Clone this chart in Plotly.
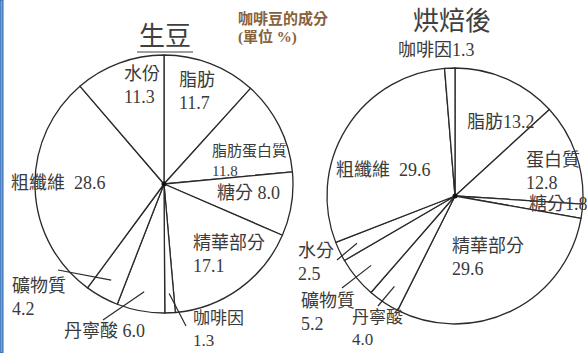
import math
import plotly.graph_objects as go

# ---- data (percent composition) ----
raw_names = ["脂肪", "脂肪蛋白質", "糖分", "精華部分", "咖啡因", "丹寧酸", "礦物質", "粗纖維", "水份"]
raw_values = [11.7, 11.8, 8.0, 17.1, 1.3, 6.0, 4.2, 28.6, 11.3]

roast_names = ["脂肪", "蛋白質", "糖分", "精華部分", "丹寧酸", "礦物質", "水分", "粗纖維", "咖啡因"]
roast_values = [13.2, 12.8, 1.8, 29.6, 4.0, 5.2, 2.5, 29.6, 1.3]

titles = ["生豆", "烘焙後"]
caption = ["咖啡豆的成分", "(單位 %)"]

# ---- page / geometry ----
W, H = 587, 353
FONT = "'Liberation Serif', 'Noto Sans CJK TC', serif"
INK = "#3a3a3a"

pies = [
    dict(names=raw_names, values=raw_values, cx=164, cy=184, r=129),
    dict(names=roast_names, values=roast_values, cx=455, cy=196, r=128),
]


def px(x, y):
    return x / W, 1 - y / H


# label layout per pie: name -> (left x, middle y, separator, font size)
label_layout = [
    {
        "水份": (122, 85, "<br>", 18),
        "脂肪": (177, 92, "<br>", 18),
        "脂肪蛋白質": (210, 160, "<br>", 15),
        "糖分": (215, 193, " ", 18),
        "精華部分": (191, 254, "<br>", 18),
        "咖啡因": (191, 329, "<br>", 17),
        "丹寧酸": (62, 331, " ", 18),
        "礦物質": (10, 297, "<br>", 18),
        "粗纖維": (9, 183, "&nbsp;&nbsp;", 18),
    },
    {
        "咖啡因": (396, 50, "", 18),
        "脂肪": (465, 122, "", 18),
        "蛋白質": (524, 171, "<br>", 18),
        "糖分": (527, 204, "", 18),
        "精華部分": (450, 257, "<br>", 18),
        "粗纖維": (334, 170, "&nbsp;&nbsp;", 18),
        "水分": (296, 262, "<br>", 18),
        "礦物質": (299, 312, "<br>", 18),
        "丹寧酸": (350, 328, "<br>", 17),
    },
]

# leader line end points for the small outer-labelled slices
leader_ends = [
    {"咖啡因": (186, 326), "丹寧酸": (103, 320), "礦物質": (58, 270)},
    {"水分": (337, 260), "礦物質": (342, 288), "丹寧酸": (378, 306)},
]

fig = go.Figure()
shapes = []
annotations = []

for i, p in enumerate(pies):
    cx, cy, r = p["cx"], p["cy"], p["r"]
    fig.add_trace(go.Pie(
        labels=p["names"],
        values=p["values"],
        sort=False,
        direction="clockwise",
        rotation=0,
        textinfo="none",
        hoverinfo="skip",
        showlegend=False,
        marker=dict(colors=["white"] * len(p["values"]),
                    line=dict(color="#2a2a2a", width=1.3)),
        domain=dict(x=[(cx - r) / W, (cx + r) / W],
                    y=[1 - (cy + r) / H, 1 - (cy - r) / H]),
    ))

    # centre dot
    x0, y0 = px(cx - 2.5, cy + 2.5)
    x1, y1 = px(cx + 2.5, cy - 2.5)
    shapes.append(dict(type="circle", xref="paper", yref="paper",
                       x0=x0, y0=y0, x1=x1, y1=y1,
                       fillcolor="#111", line=dict(width=0)))

    # slice labels built from the values
    total = sum(p["values"])
    cum = 0.0
    for name, v in zip(p["names"], p["values"]):
        mid = (cum + v / 2) / total * 2 * math.pi
        cum += v
        lx, ly, sep, fs = label_layout[i][name]
        ax_, ay_ = px(lx, ly)
        annotations.append(dict(
            x=ax_, y=ay_, xref="paper", yref="paper",
            xanchor="left", yanchor="middle", align="left",
            text=f"{name}{sep}{v:.1f}", showarrow=False,
            font=dict(family=FONT, size=fs, color=INK),
        ))
        if name in leader_ends[i]:
            sx = cx + 0.85 * r * math.sin(mid)
            sy = cy - 0.85 * r * math.cos(mid)
            ex, ey = leader_ends[i][name]
            a0, b0 = px(sx, sy)
            a1, b1 = px(ex, ey)
            shapes.append(dict(type="line", xref="paper", yref="paper",
                               x0=a0, y0=b0, x1=a1, y1=b1,
                               line=dict(color="#2a2a2a", width=1.2)))

# titles
tx, ty = px(165, 37)
annotations.append(dict(x=tx, y=ty, xref="paper", yref="paper", showarrow=False,
                        xanchor="center", yanchor="middle", text=titles[0],
                        font=dict(family=FONT, size=26, color="#404040")))
a0, b0 = px(137, 52)
a1, b1 = px(193, 52)
shapes.append(dict(type="line", xref="paper", yref="paper", x0=a0, y0=b0, x1=a1, y1=b1,
                   line=dict(color="#404040", width=1.2)))
tx, ty = px(452, 22)
annotations.append(dict(x=tx, y=ty, xref="paper", yref="paper", showarrow=False,
                        xanchor="center", yanchor="middle", text=titles[1],
                        font=dict(family=FONT, size=26, color="#404040")))

# caption
for k, line in enumerate(caption):
    tx, ty = px(236, 18 + 19 * k)
    annotations.append(dict(x=tx, y=ty, xref="paper", yref="paper", showarrow=False,
                            xanchor="left", yanchor="middle", text=line,
                            font=dict(family=FONT, size=15, color="#86613c", weight="bold")))

# left page edge
shapes.append(dict(type="rect", xref="paper", yref="paper",
                   x0=0, x1=3 / W, y0=0, y1=1,
                   fillcolor="#6fa3de", line=dict(color="#2f62a8", width=1)))

fig.update_layout(
    width=W, height=H, autosize=False,
    margin=dict(l=0, r=0, t=0, b=0),
    paper_bgcolor="white", plot_bgcolor="white",
    shapes=shapes, annotations=annotations,
)

fig.write_html("out.html")
